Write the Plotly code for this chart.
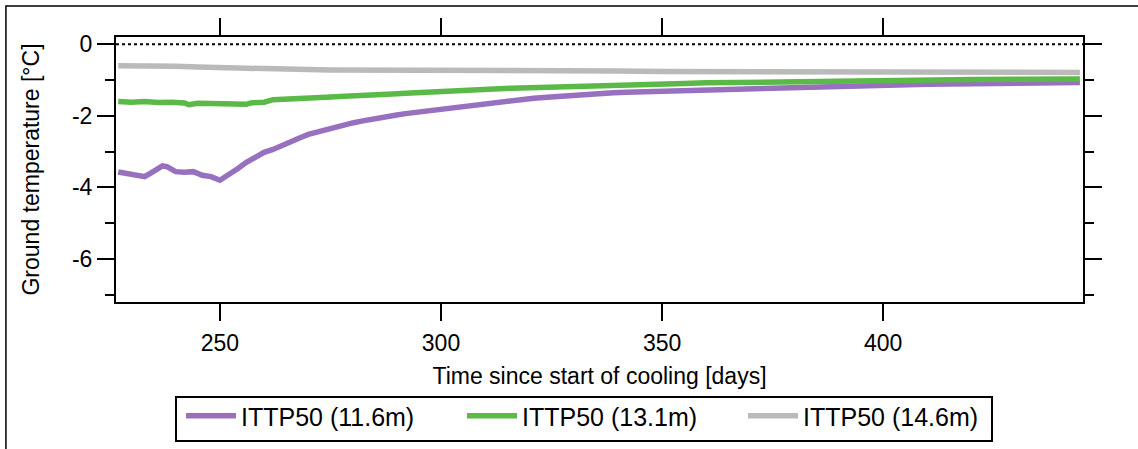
import plotly.graph_objects as go

# ---------------- data ----------------
days_116 = [227, 229, 231, 233, 235, 237, 238, 240, 242, 244, 246, 248, 250,
            252, 254, 256, 258, 260, 262, 264, 266, 268, 270, 272, 274, 276,
            278, 280, 282, 284, 286, 288, 290, 292, 294, 296, 298, 300, 303,
            306, 309, 312, 315, 318, 321, 324, 327, 330, 333, 336, 339, 342,
            345, 348, 351, 354, 357, 360, 363, 366, 369, 372, 375, 378, 381,
            385, 390, 395, 400, 405, 410, 415, 420, 425, 430, 435, 440, 444.5]
temp_116 = [-3.57, -3.62, -3.66, -3.70, -3.55, -3.40, -3.42, -3.56, -3.58,
            -3.56, -3.66, -3.70, -3.80, -3.66, -3.48, -3.30, -3.15, -3.02,
            -2.94, -2.82, -2.70, -2.62, -2.52, -2.45, -2.38, -2.32, -2.25,
            -2.20, -2.15, -2.10, -2.06, -2.01, -1.98, -1.94, -1.91, -1.86,
            -1.83, -1.80, -1.76, -1.72, -1.66, -1.62, -1.58, -1.55, -1.51,
            -1.48, -1.45, -1.43, -1.41, -1.39, -1.36, -1.34, -1.33, -1.31,
            -1.29, -1.28, -1.26, -1.25, -1.24, -1.23, -1.22, -1.21, -1.20,
            -1.19, -1.18, -1.17, -1.15, -1.14, -1.13, -1.13, -1.12, -1.11,
            -1.10, -1.10, -1.09, -1.08, -1.08, -1.07]

days_131 = [227, 230, 233, 236, 239, 242, 243, 245, 248, 251, 254, 256, 257,
            260, 262, 265, 268, 271, 274, 277, 280, 283, 286, 289, 292, 295,
            298, 301, 304, 308, 312, 316, 320, 325, 330, 335, 340, 345, 350,
            355, 360, 365, 370, 375, 380, 385, 390, 395, 400, 410, 420, 430,
            440, 444.5]
temp_131 = [-1.60, -1.62, -1.60, -1.63, -1.62, -1.64, -1.69, -1.65, -1.66,
            -1.66, -1.65, -1.68, -1.64, -1.62, -1.55, -1.54, -1.52, -1.50,
            -1.48, -1.46, -1.45, -1.43, -1.41, -1.39, -1.37, -1.35, -1.32,
            -1.29, -1.28, -1.26, -1.25, -1.23, -1.22, -1.20, -1.18, -1.16,
            -1.14, -1.12, -1.11, -1.10, -1.08, -1.07, -1.06, -1.05, -1.04,
            -1.03, -1.02, -1.01, -1.01, -1.00, -0.99, -0.98, -0.98, -0.97]

days_146 = [227, 231, 235, 240, 245, 250, 255, 260, 265, 270, 275, 280, 285,
            290, 295, 300, 310, 320, 330, 340, 350, 360, 370, 380, 390, 400,
            410, 420, 430, 440, 444.5]
temp_146 = [-0.60, -0.60, -0.61, -0.62, -0.64, -0.66, -0.68, -0.70, -0.70,
            -0.71, -0.72, -0.72, -0.73, -0.73, -0.74, -0.74, -0.75, -0.75,
            -0.75, -0.75, -0.76, -0.76, -0.77, -0.77, -0.77, -0.77, -0.78,
            -0.78, -0.78, -0.79, -0.79]

series_names = ["ITTP50 (11.6m)", "ITTP50 (13.1m)", "ITTP50 (14.6m)"]
series_colors = ["#9770bf", "#5bb947", "#bababa"]

x_range = [226.5, 445.2]
y_range = [-7.2, 0.2]
x_ticks = [250, 300, 350, 400]
y_ticks = [-6, -4, -2, 0]
y_tick_text = ["-6", "-4", "-2", "0"]

# ---------------- figure ----------------
fig = go.Figure()
for xs, ys, nm, col in zip([days_116, days_131, days_146],
                           [temp_116, temp_131, temp_146],
                           series_names, series_colors):
    fig.add_trace(go.Scatter(x=xs, y=ys, mode="lines", name=nm,
                             line=dict(color=col, width=5.5)))

# dotted zero line
fig.add_shape(type="line", xref="paper", x0=0, x1=1, yref="y", y0=0, y1=0,
              line=dict(color="black", width=2, dash="dot"))
# outer frame
fig.add_shape(type="rect", xref="paper", yref="paper",
              x0=-0.1138, x1=1.2, y0=-0.7, y1=1.117,
              line=dict(color="black", width=1.5), layer="below")
# legend box (pixels 176..992 x 397..441 converted to paper units)
fig.add_shape(type="rect", xref="paper", yref="paper",
              x0=(176 - 116) / 967, x1=(992 - 116) / 967,
              y0=(302 - 441) / 265, y1=(302 - 397) / 265,
              line=dict(color="black", width=2), layer="below")

axis_common = dict(showline=True, linecolor="black", linewidth=2,
                   mirror="allticks", ticks="outside", tickwidth=2,
                   ticklen=17, tickcolor="black", showgrid=False,
                   zeroline=False)

fig.update_xaxes(range=x_range, tickvals=x_ticks,
                 tickfont=dict(size=23), ticklabelstandoff=2,
                 title=dict(text="Time since start of cooling [days]",
                            font=dict(size=23), standoff=13),
                 **axis_common)
fig.update_yaxes(range=y_range, tickvals=y_ticks, ticktext=y_tick_text,
                 minor=dict(dtick=1, tick0=0, ticklen=9, tickwidth=2,
                            tickcolor="black", ticks="outside"),
                 tickfont=dict(size=23),
                 title=dict(text="Ground temperature [°C]",
                            font=dict(size=23), standoff=26),
                 **axis_common)

fig.update_layout(
    width=1138, height=449,
    margin=dict(l=116, r=55, t=37, b=147, autoexpand=False),
    plot_bgcolor="white", paper_bgcolor="white",
    font=dict(family="Liberation Sans, Arial, sans-serif", size=23,
              color="black"),
    showlegend=True,
    legend=dict(orientation="h", x=(181 - 116) / 967, y=(302 - 393) / 265,
                xanchor="left", yanchor="top", borderwidth=0,
                font=dict(size=25), itemwidth=50,
                entrywidth=216, entrywidthmode="pixels",
                bgcolor="rgba(0,0,0,0)"),
)

fig.write_html("out.html")
